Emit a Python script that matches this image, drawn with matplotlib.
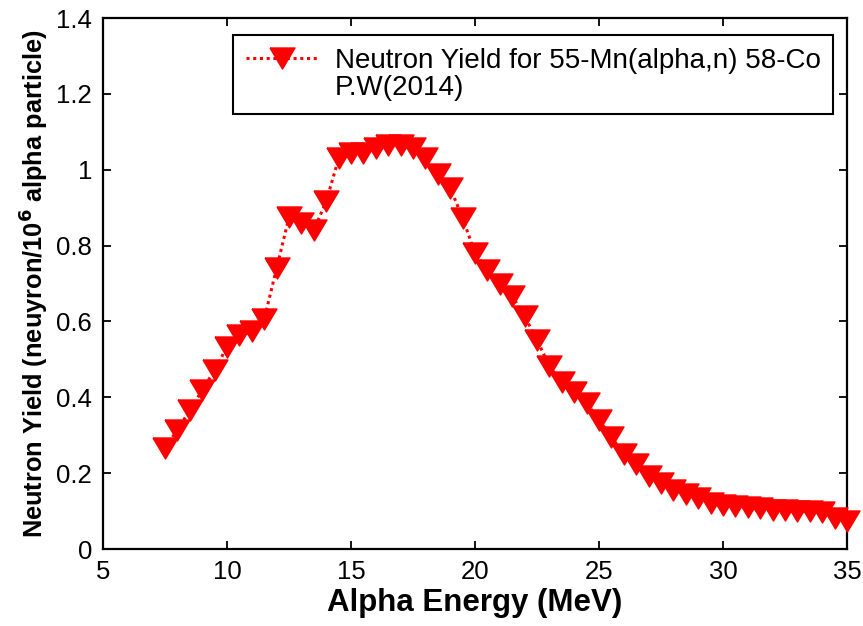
import numpy as np
import matplotlib.pyplot as plt
from matplotlib.ticker import FormatStrFormatter
from matplotlib.lines import Line2D

plt.rcParams['font.family'] = ['Liberation Sans', 'DejaVu Sans']

# Energia das particulas alfa (MeV) e rendimento de neutrons
energia = np.arange(7.5, 35.01, 0.5)
rendimento = [
    0.266, 0.314, 0.366, 0.419, 0.472, 0.533, 0.564, 0.575, 0.606, 0.741,
    0.875, 0.860, 0.841, 0.917, 1.030, 1.044, 1.044, 1.057, 1.065, 1.065,
    1.057, 1.030, 0.990, 0.952, 0.873, 0.780, 0.736, 0.700, 0.667, 0.614,
    0.551, 0.482, 0.440, 0.414, 0.385, 0.340, 0.295, 0.250, 0.224, 0.192,
    0.174, 0.156, 0.145, 0.134, 0.121, 0.116, 0.113, 0.111, 0.108, 0.103,
    0.103, 0.100, 0.100, 0.098, 0.082, 0.074,
]
rotulo = 'Neutron Yield for 55-Mn(alpha,n) 58-Co'
rotulo2 = 'P.W(2014)'

# triangulo para baixo um pouco achatado (como no MATLAB)
tri = [(-1, 0.84), (1, 0.84), (0, -0.84), (-1, 0.84)]

fig = plt.figure(figsize=(8.63, 6.26), dpi=100)
ax = fig.add_axes([0.1194, 0.123, 0.8621, 0.848])

ax.plot(energia, rendimento, color='red', linestyle=(0, (1, 1.2)), linewidth=2.2,
        marker=tri, markersize=18, markerfacecolor='red', markeredgecolor='red',
        label=rotulo, clip_on=False, zorder=5)
vazio = Line2D([], [], linestyle='none', marker=None, label=rotulo2)

ax.set_xlim(5, 35)
ax.set_ylim(0, 1.4)
ax.set_xticks(np.arange(5, 36, 5))
ax.set_yticks(np.arange(0, 1.41, 0.2))
ax.yaxis.set_major_formatter(FormatStrFormatter('%g'))
ax.tick_params(direction='in', length=6, width=1.3, top=True, right=True,
               labelsize=18.5, pad=8)
for s in ax.spines.values():
    s.set_linewidth(1.6)

ax.set_xlabel('Alpha Energy (MeV)', fontsize=22.5, fontweight='bold', labelpad=3)
ax.set_ylabel('Neutron Yield (neuyron/10$^{\\mathbf{6}}$ alpha particle)',
              fontsize=18.3, fontweight='bold', labelpad=4)

h, l = ax.get_legend_handles_labels()
leg = ax.legend(h + [vazio], l + [rotulo2], loc='upper right',
                bbox_to_anchor=(0.981, 0.968), borderaxespad=0, fontsize=20,
                fancybox=False, edgecolor='black', framealpha=1,
                handlelength=2.6, handletextpad=0.6, labelspacing=0.05,
                borderpad=0.45)
leg.get_frame().set_linewidth(1.5)

fig.savefig('out.png', dpi=100)
